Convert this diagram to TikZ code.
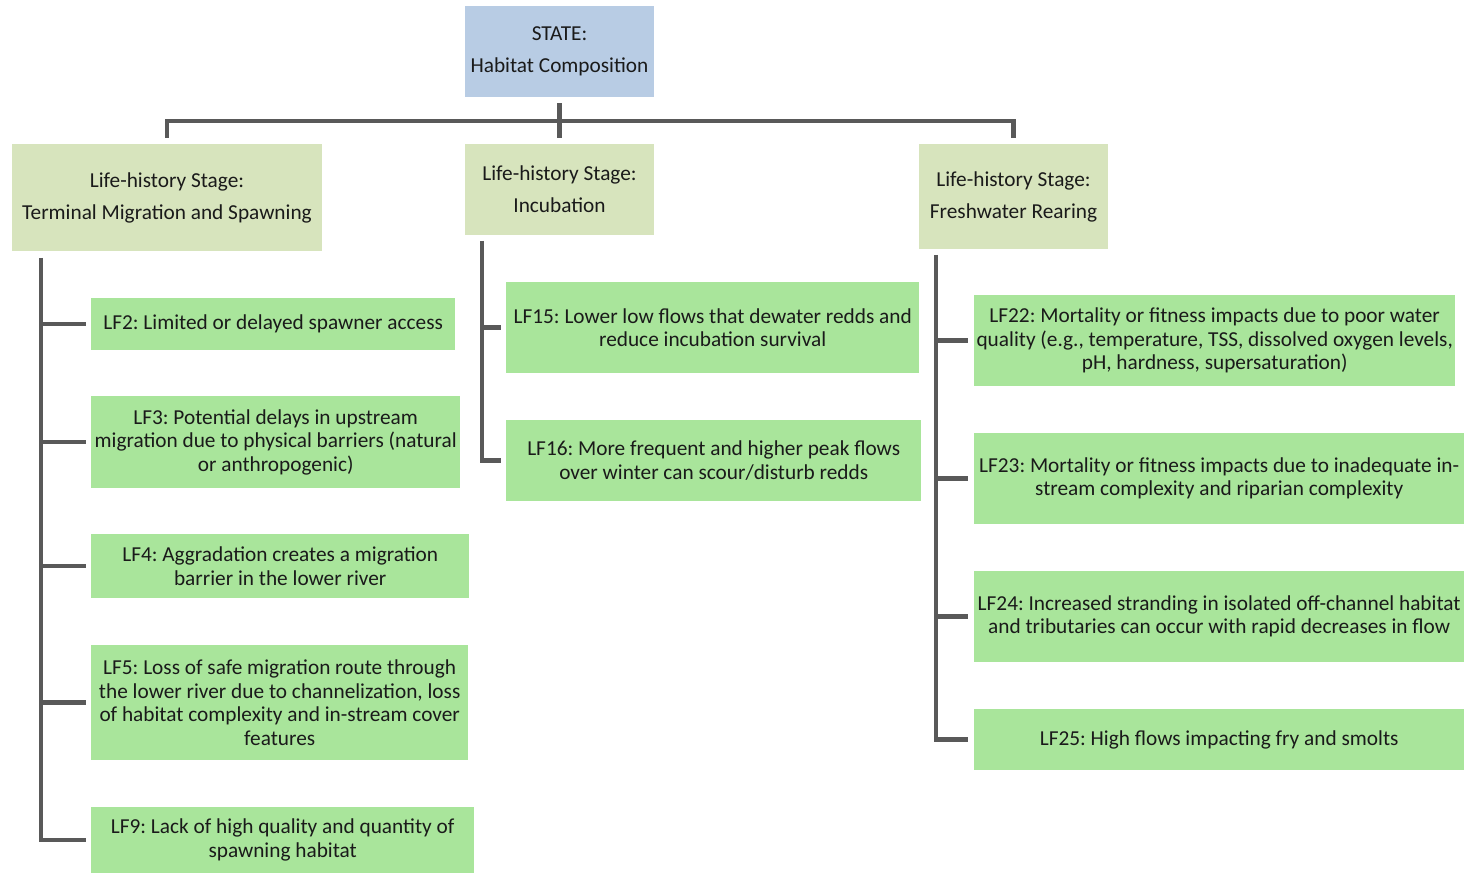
\documentclass[tikz,border=0pt]{standalone}
\usepackage{fontspec}
\setmainfont{Carlito}
\usetikzlibrary{positioning,calc}
\definecolor{stateblue}{HTML}{B8CCE4}
\definecolor{stagegreen}{HTML}{D7E4BD}
\definecolor{lfgreen}{HTML}{A9E59B}
\definecolor{conngray}{HTML}{595959}
\definecolor{txt}{HTML}{1A1A1A}
\tikzset{
  base/.style={rectangle, inner sep=0pt, align=center, text=txt, font=\frenchspacing\fontsize{21.3}{23.5}\selectfont},
  statebox/.style={base, fill=stateblue},
  stagebox/.style={base, fill=stagegreen},
  lfbox/.style={base, fill=lfgreen},
  conn/.style={draw=conngray, line width=4.5pt}
}
\begin{document}
\begin{tikzpicture}[x=1pt,y=-1pt]
\useasboundingbox (0,0) rectangle (1469,874);
% top
\node[statebox, minimum width=189, minimum height=91] (state) at (559.5,51.5) {STATE:\\[8.5pt]Habitat Composition};
\node[stagebox, minimum width=310, minimum height=107] (s1) at (167,197.5) {Life-history Stage:\\[8.5pt]Terminal Migration and Spawning};
\node[stagebox, minimum width=189, minimum height=91] (s2) at (559.5,189.5) {Life-history Stage:\\[8.5pt]Incubation};
\node[stagebox, minimum width=189, minimum height=105] (s3) at (1013.5,196.5) {Life-history Stage:\\[8.5pt]Freshwater Rearing};
\coordinate (bar) at (559.5,121);
\draw[conn] ([yshift=-6pt]state.south) -- ([yshift=6pt]s2.north);
\draw[conn] ([yshift=6pt]s1.north) -- (s1.north |- bar) -- (s3.north |- bar) -- ([yshift=6pt]s3.north);
% left column
\node[lfbox, minimum width=364, minimum height=52, anchor=west] (lf2) at (91,324) {LF2: Limited or delayed spawner access};
\node[lfbox, minimum width=369, minimum height=92, anchor=west] (lf3) at (91,442) {LF3: Potential delays in upstream\\migration due to physical barriers (natural\\or anthropogenic)};
\node[lfbox, minimum width=378, minimum height=64, anchor=west] (lf4) at (91,566) {LF4: Aggradation creates a migration\\barrier in the lower river};
\node[lfbox, minimum width=377, minimum height=115, anchor=west] (lf5) at (91,702.5) {LF5: Loss of safe migration route through\\the lower river due to channelization, loss\\of habitat complexity and in-stream cover\\features};
\node[lfbox, minimum width=383, minimum height=66, anchor=west] (lf9) at (91,840) {LF9: Lack of high quality and quantity of\\spawning habitat};
\coordinate (t1) at (41,258);
\draw[conn] (t1) |- ([xshift=-5pt]lf9.west);
\foreach \n in {lf2,lf3,lf4,lf5}
  \draw[conn] (t1 |- \n.west) -- ([xshift=-5pt]\n.west);
% middle column
\node[lfbox, minimum width=413, minimum height=91, anchor=west] (lf15) at (506,327.5) {LF15: Lower low flows that dewater redds and\\reduce incubation survival};
\node[lfbox, minimum width=415, minimum height=81, anchor=west] (lf16) at (506,460.5) {LF16: More frequent and higher peak flows\\over winter can scour/disturb redds};
\coordinate (t2) at (482,241);
\draw[conn] (t2) |- ([xshift=-5pt]lf16.west);
\draw[conn] (t2 |- lf15.west) -- ([xshift=-5pt]lf15.west);
% right column
\node[lfbox, minimum width=481, minimum height=91, anchor=west] (lf22) at (974,340.5) {LF22: Mortality or fitness impacts due to poor water\\quality (e.g., temperature, TSS, dissolved oxygen levels,\\pH, hardness, supersaturation)};
\node[lfbox, minimum width=490, minimum height=91, anchor=west] (lf23) at (974,478.5) {LF23: Mortality or fitness impacts due to inadequate in-\\stream complexity and riparian complexity};
\node[lfbox, minimum width=490, minimum height=91, anchor=west] (lf24) at (974,616.5) {LF24: Increased stranding in isolated off-channel habitat\\and tributaries can occur with rapid decreases in flow};
\node[lfbox, minimum width=490, minimum height=61, anchor=west] (lf25) at (974,739.5) {LF25: High flows impacting fry and smolts};
\coordinate (t3) at (936,255);
\draw[conn] (t3) |- ([xshift=-6pt]lf25.west);
\foreach \n in {lf22,lf23,lf24}
  \draw[conn] (t3 |- \n.west) -- ([xshift=-6pt]\n.west);
\end{tikzpicture}
\end{document}
